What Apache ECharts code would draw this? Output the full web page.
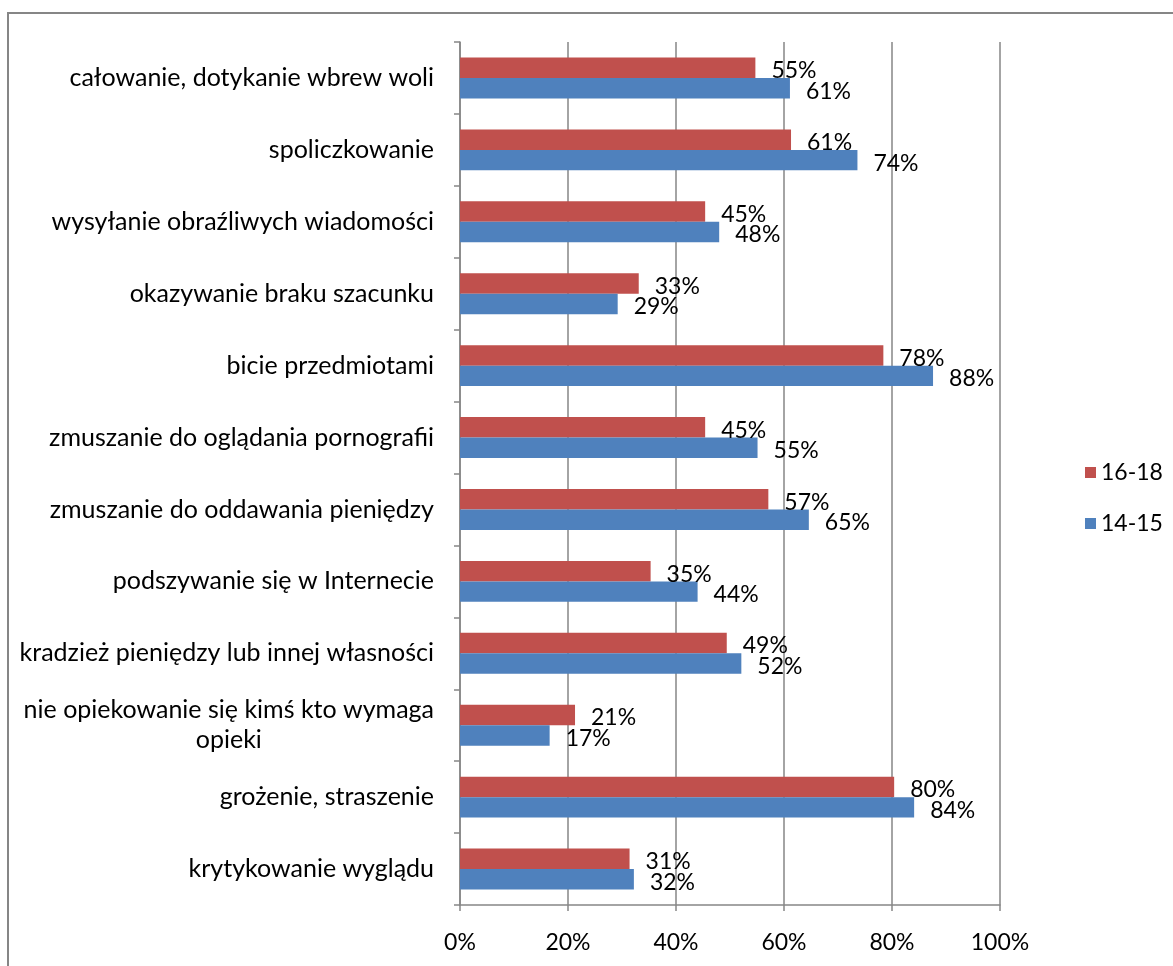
<!DOCTYPE html>
<html><head><meta charset="utf-8">
<script src="https://cdn.jsdelivr.net/npm/echarts@6/dist/echarts.min.js"></script>
<style>html,body{margin:0;padding:0;background:#fff}#c{width:1173px;height:966px}</style>
</head><body><div id="c"></div>
<script>
const categories = [
  'całowanie, dotykanie wbrew woli',
  'spoliczkowanie',
  'wysyłanie obraźliwych wiadomości',
  'okazywanie braku szacunku',
  'bicie przedmiotami',
  'zmuszanie do oglądania pornografii',
  'zmuszanie do oddawania pieniędzy',
  'podszywanie się w Internecie',
  'kradzież pieniędzy lub innej własności',
  'nie opiekowanie się kimś kto wymaga\nopieki',
  'grożenie, straszenie',
  'krytykowanie wyglądu'
];
const series1618 = [54.7, 61.3, 45.4, 33.1, 78.4, 45.4, 57.1, 35.3, 49.4, 21.3, 80.4, 31.4];
const series1415 = [61.1, 73.6, 48.0, 29.2, 87.6, 55.1, 64.6, 44.0, 52.1, 16.6, 84.1, 32.2];
const xTicks = [0, 20, 40, 60, 80, 100];

const FONT = 'Lato';
const chart = echarts.init(document.getElementById('c'), null, {renderer: 'canvas'});
const lbl = {
  show: true, position: 'right', distance: 16, offset: [0, 3],
  color: '#000', fontFamily: FONT, fontSize: 23,
  formatter: p => Math.round(p.value) + '%'
};
chart.setOption({
  animation: false,
  textStyle: {fontFamily: FONT},
  graphic: [{type: 'rect', shape: {x: 8, y: 13, width: 1300, height: 1100},
    style: {fill: 'none', stroke: '#868686', lineWidth: 2}, silent: true}],
  grid: {left: 460, right: 173, top: 42, bottom: 61, containLabel: false},
  legend: {
    orient: 'vertical', left: 1080, top: 456, itemWidth: 11, itemHeight: 11, itemGap: 28,
    icon: 'rect', textStyle: {fontFamily: FONT, fontSize: 23, color: '#000'},
    data: ['16-18', '14-15']
  },
  xAxis: {
    type: 'value', min: xTicks[0], max: xTicks[xTicks.length - 1], interval: 20,
    axisLine: {show: true, lineStyle: {color: '#868686', width: 1.5}},
    axisTick: {show: true, length: 6, lineStyle: {color: '#868686', width: 1.5}},
    splitLine: {show: true, lineStyle: {color: '#868686', width: 1.5}},
    axisLabel: {formatter: '{value}%', color: '#000', fontFamily: FONT, fontSize: 23, margin: 26}
  },
  yAxis: {
    type: 'category', data: categories, inverse: true,
    axisLine: {show: true, lineStyle: {color: '#868686', width: 1.5}},
    axisTick: {show: true, length: 6, lineStyle: {color: '#868686', width: 1.5}},
    axisLabel: {
      color: '#000', fontFamily: FONT, fontSize: 25, margin: 26, lineHeight: 30,
      formatter: v => v.indexOf('\n') >= 0 ? v.split('\n').map(s => '{c|' + s + '}').join('\n') : v,
      rich: {c: {align: 'center', fontFamily: FONT, fontSize: 25, color: '#000', lineHeight: 30}}
    }
  },
  series: [
    {name: '16-18', type: 'bar', data: series1618, barGap: '0%', barCategoryGap: '43%',
     itemStyle: {color: '#C0504D'}, label: lbl},
    {name: '14-15', type: 'bar', data: series1415, barGap: '0%', barCategoryGap: '43%',
     itemStyle: {color: '#4F81BD'}, label: lbl}
  ]
});
</script></body></html>
